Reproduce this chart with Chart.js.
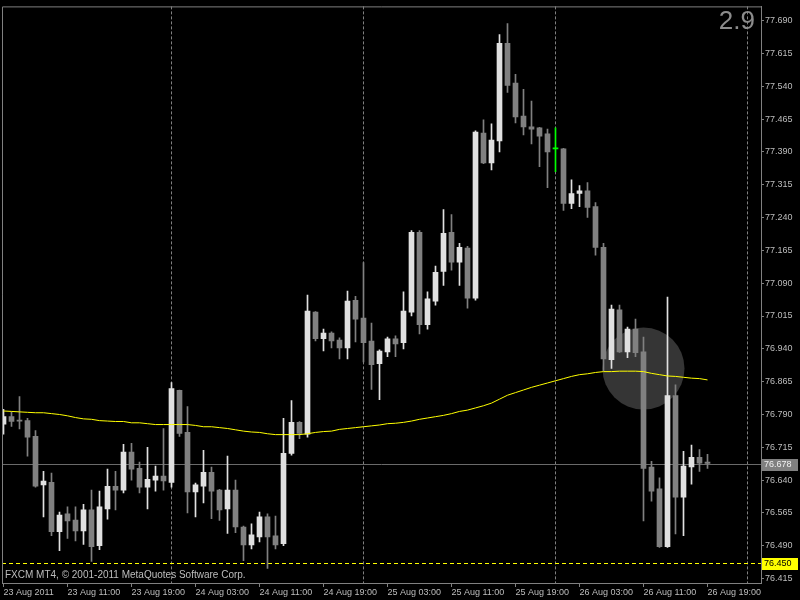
<!DOCTYPE html>
<html>
<head>
<meta charset="utf-8">
<title>USDJPY H1</title>
<script src="https://cdn.jsdelivr.net/npm/chart.js@4.4.0/dist/chart.umd.min.js"></script>
<style>
  html, body { margin: 0; padding: 0; background: #000; }
  #wrap { width: 800px; height: 600px; position: relative; }
</style>
</head>
<body>
<div id="wrap"><canvas id="priceChart"></canvas></div>
<script>
// hourly bars, 23 Aug 2011 03:00 .. 26 Aug 2011 19:00
const opens = [
  76.768, 76.785, 76.777, 76.776, 76.740, 76.629, 76.635, 76.522, 76.563, 76.549,
  76.524, 76.572, 76.490, 76.574, 76.626, 76.617, 76.704, 76.667, 76.624, 76.640,
  76.649, 76.635, 76.845, 76.749, 76.613, 76.626, 76.658, 76.617, 76.574, 76.617,
  76.533, 76.492, 76.510, 76.556, 76.513, 76.495, 76.701, 76.772, 76.745, 77.024,
  76.963, 76.976, 76.960, 76.942, 77.051, 77.010, 76.958, 76.906, 76.933, 76.963,
  76.954, 77.024, 77.206, 76.995, 77.049, 77.117, 77.206, 77.138, 77.170, 77.056,
  77.433, 77.365, 77.415, 77.638, 77.547, 77.472, 77.447, 77.445, 77.431, 77.397,
  77.397, 77.272, 77.295, 77.301, 77.265, 77.172, 76.915, 77.029, 76.933, 76.985,
  76.933, 76.670, 76.620, 76.488, 76.833, 76.601, 76.670, 76.692, 76.681
];
const highs = [
  76.802, 76.796, 76.831, 76.781, 76.753, 76.660, 76.656, 76.567, 76.579, 76.579,
  76.585, 76.617, 76.615, 76.665, 76.660, 76.722, 76.724, 76.681, 76.715, 76.672,
  76.758, 76.863, 76.846, 76.808, 76.633, 76.708, 76.670, 76.619, 76.695, 76.640,
  76.535, 76.540, 76.567, 76.563, 76.558, 76.781, 76.822, 76.774, 77.063, 77.025,
  76.985, 76.979, 76.965, 77.072, 77.060, 77.137, 76.999, 76.938, 76.967, 76.970,
  77.070, 77.210, 77.210, 77.070, 77.129, 77.258, 77.247, 77.181, 77.174, 77.438,
  77.463, 77.454, 77.658, 77.683, 77.567, 77.533, 77.506, 77.446, 77.442, 77.445,
  77.398, 77.326, 77.313, 77.320, 77.274, 77.181, 77.040, 77.040, 76.990, 77.008,
  76.967, 76.683, 76.645, 77.058, 76.858, 76.706, 76.720, 76.710, 76.699
];
const lows = [
  76.745, 76.763, 76.757, 76.695, 76.624, 76.556, 76.513, 76.479, 76.507, 76.501,
  76.493, 76.454, 76.481, 76.551, 76.572, 76.611, 76.640, 76.611, 76.574, 76.615,
  76.617, 76.624, 76.740, 76.565, 76.556, 76.588, 76.552, 76.548, 76.518, 76.520,
  76.456, 76.483, 76.499, 76.438, 76.483, 76.490, 76.697, 76.735, 76.738, 76.958,
  76.935, 76.942, 76.917, 76.917, 76.956, 76.910, 76.847, 76.824, 76.922, 76.922,
  76.940, 77.015, 76.974, 76.985, 77.040, 77.085, 77.120, 77.085, 77.033, 77.051,
  77.363, 77.349, 77.390, 77.526, 77.456, 77.429, 77.408, 77.356, 77.308, 77.345,
  77.256, 77.260, 77.265, 77.240, 77.154, 76.890, 76.895, 76.932, 76.920, 76.922,
  76.547, 76.592, 76.486, 76.486, 76.517, 76.513, 76.631, 76.660, 76.667
];
const closes = [
  76.785, 76.774, 76.775, 76.738, 76.626, 76.638, 76.522, 76.560, 76.547, 76.524,
  76.572, 76.488, 76.579, 76.626, 76.617, 76.704, 76.665, 76.624, 76.642, 76.649,
  76.638, 76.849, 76.747, 76.613, 76.629, 76.658, 76.615, 76.572, 76.617, 76.533,
  76.492, 76.515, 76.556, 76.510, 76.492, 76.701, 76.772, 76.747, 77.026, 76.963,
  76.976, 76.958, 76.942, 77.049, 77.008, 76.954, 76.904, 76.935, 76.963, 76.951,
  77.026, 77.206, 76.995, 77.054, 77.115, 77.204, 77.138, 77.172, 77.056, 77.435,
  77.365, 77.417, 77.638, 77.542, 77.470, 77.447, 77.442, 77.426, 77.390, 77.397,
  77.272, 77.295, 77.301, 77.263, 77.172, 76.917, 77.031, 76.933, 76.985, 76.931,
  76.667, 76.615, 76.488, 76.833, 76.601, 76.672, 76.692, 76.679, 76.678
];
// moving average (yellow)
const ma = [
  76.798, 76.797, 76.796, 76.795, 76.794, 76.794, 76.792, 76.790, 76.787, 76.783,
  76.780, 76.779, 76.776, 76.775, 76.774, 76.774, 76.771, 76.771, 76.769, 76.767,
  76.767, 76.767, 76.767, 76.767, 76.765, 76.762, 76.762, 76.760, 76.758, 76.755,
  76.752, 76.750, 76.749, 76.746, 76.744, 76.744, 76.744, 76.744, 76.746, 76.749,
  76.751, 76.752, 76.756, 76.758, 76.760, 76.762, 76.764, 76.766, 76.769, 76.770,
  76.772, 76.775, 76.779, 76.782, 76.785, 76.788, 76.792, 76.797, 76.800, 76.805,
  76.810, 76.816, 76.825, 76.834, 76.840, 76.846, 76.852, 76.857, 76.862, 76.867,
  76.872, 76.877, 76.881, 76.883, 76.886, 76.888, 76.888, 76.889, 76.889, 76.889,
  76.888, 76.884, 76.881, 76.878, 76.877, 76.875, 76.873, 76.872, 76.869
];

const timeLabels = ['23 Aug 2011', '23 Aug 11:00', '23 Aug 19:00', '24 Aug 03:00', '24 Aug 11:00', '24 Aug 19:00',
                    '25 Aug 03:00', '25 Aug 11:00', '25 Aug 19:00', '26 Aug 03:00', '26 Aug 11:00', '26 Aug 19:00'];
const timeTickBars = [0, 8, 16, 24, 32, 40, 48, 56, 64, 72, 80, 88];
const daySeparators = [21, 45, 69, 93];   // bar index of 00:00 each day
const priceTicks = [77.690, 77.615, 77.540, 77.465, 77.390, 77.315, 77.240, 77.165, 77.090,
                    77.015, 76.940, 76.865, 76.790, 76.715, 76.640, 76.565, 76.490, 76.415];
const bidPrice = 76.678;
const alertPrice = 76.450;
const markBar = 80, markPrice = 76.895;
const cornerText = '2.9';

const FG = '#bdbdbd';
const FONT = '"Liberation Sans", Arial, sans-serif';

function barColor(i) {
    if (closes[i] === opens[i]) return '#00ff00';
    return closes[i] > opens[i] ? '#e0e0e0' : '#808080';
}

const bars = opens.map((_, i) => i);

const mt4Extras = {
    id: 'mt4Extras',
    beforeDatasetsDraw(chart) {
        const { ctx, chartArea: a, scales: { x, y } } = chart;
        ctx.save();
        // highlight circle
        ctx.fillStyle = '#353535';
        ctx.beginPath();
        ctx.arc(x.getPixelForValue(markBar), y.getPixelForValue(markPrice), 41, 0, Math.PI * 2);
        ctx.fill();
        // day separators
        ctx.strokeStyle = '#808080';
        ctx.lineWidth = 1;
        ctx.setLineDash([3, 2]);
        daySeparators.forEach(d => {
            const px = Math.floor(x.getPixelForValue(d)) + 0.5;
            ctx.beginPath();
            ctx.moveTo(px, a.top);
            ctx.lineTo(px, a.bottom);
            ctx.stroke();
        });
        // alert level
        ctx.strokeStyle = '#ffff00';
        ctx.setLineDash([4, 3]);
        let py = Math.round(y.getPixelForValue(alertPrice)) + 0.5;
        ctx.beginPath();
        ctx.moveTo(a.left, py);
        ctx.lineTo(a.right, py);
        ctx.stroke();
        // bid line
        ctx.setLineDash([]);
        ctx.strokeStyle = '#6a6a6a';
        py = Math.round(y.getPixelForValue(bidPrice)) + 0.5;
        ctx.beginPath();
        ctx.moveTo(a.left, py);
        ctx.lineTo(a.right, py);
        ctx.stroke();
        ctx.restore();
    },
    afterDraw(chart) {
        const { ctx, chartArea: a, scales: { y } } = chart;
        ctx.save();
        ctx.strokeStyle = '#808080';
        ctx.lineWidth = 1;
        ctx.beginPath();
        ctx.moveTo(a.left + 0.5, a.bottom);
        ctx.lineTo(a.left + 0.5, a.top + 0.5);
        ctx.lineTo(a.right, a.top + 0.5);
        ctx.stroke();

        ctx.fillStyle = '#8c8c8c';
        ctx.font = '26px ' + FONT;
        ctx.textAlign = 'right';
        ctx.textBaseline = 'alphabetic';
        ctx.fillText(cornerText, a.right - 6, 28.5);

        ctx.fillStyle = FG;
        ctx.font = '10px ' + FONT;
        ctx.textAlign = 'left';
        ctx.textBaseline = 'middle';
        ctx.fillText('FXCM MT4, \u00a9 2001-2011 MetaQuotes Software Corp.', a.left + 3, a.bottom - 8);

        // price tags on the axis
        ctx.font = '9px ' + FONT;
        [[bidPrice, '#808080', '#f0f0f0'], [alertPrice, '#ffff00', '#000000']].forEach(([p, bg, fg]) => {
            const cy = Math.round(y.getPixelForValue(p));
            ctx.fillStyle = bg;
            ctx.fillRect(a.right + 1, cy - 5, 36, 12);
            ctx.fillStyle = fg;
            ctx.fillText(p.toFixed(3), a.right + 3, cy + 1);
        });
        ctx.restore();
    }
};

new Chart(document.getElementById('priceChart'), {
    type: 'bar',
    data: {
        datasets: [
            {
                type: 'line',
                data: bars.map(i => ({ x: i, y: ma[i] })),
                borderColor: '#ffff00',
                borderWidth: 1,
                pointRadius: 0,
                tension: 0,
                order: 0
            },
            {
                data: bars.map(i => ({ x: i, y: [opens[i], closes[i]] })),
                backgroundColor: ctx => barColor(ctx.dataIndex),
                barThickness: 5,
                minBarLength: 1,
                grouped: false,
                order: 1
            },
            {
                data: bars.map(i => ({ x: i, y: [lows[i], highs[i]] })),
                backgroundColor: ctx => barColor(ctx.dataIndex),
                barThickness: 1,
                grouped: false,
                order: 2
            }
        ]
    },
    options: {
        responsive: true,
        maintainAspectRatio: false,
        animation: false,
        events: [],
        layout: { padding: { left: 2, top: 2, right: 0, bottom: 0 } },
        plugins: {
            legend: { display: false },
            tooltip: { enabled: false }
        },
        scales: {
            x: {
                type: 'linear',
                min: -0.1875,
                max: 94.6875,
                offset: false,
                afterFit: s => { s.height = 17; },
                afterBuildTicks: s => { s.ticks = timeTickBars.map(v => ({ value: v })); },
                grid: { offset: false, drawOnChartArea: false, tickLength: 4, color: '#808080' },
                border: { display: true, color: '#808080' },
                ticks: {
                    align: 'start',
                    maxRotation: 0,
                    autoSkip: false,
                    padding: 0,
                    color: FG,
                    font: { family: FONT, size: 9 },
                    callback: (v, i) => timeLabels[i]
                }
            },
            y: {
                position: 'right',
                min: 76.40497,
                max: 77.72243,
                afterFit: s => { s.width = 39; },
                afterBuildTicks: s => { s.ticks = priceTicks.map(v => ({ value: v })); },
                grid: { drawOnChartArea: false, tickLength: 3, color: '#808080' },
                border: { display: true, color: '#808080' },
                ticks: {
                    padding: 1,
                    color: FG,
                    font: { family: FONT, size: 9 },
                    callback: v => v.toFixed(3)
                }
            }
        }
    },
    plugins: [mt4Extras]
});
</script>
</body>
</html>
